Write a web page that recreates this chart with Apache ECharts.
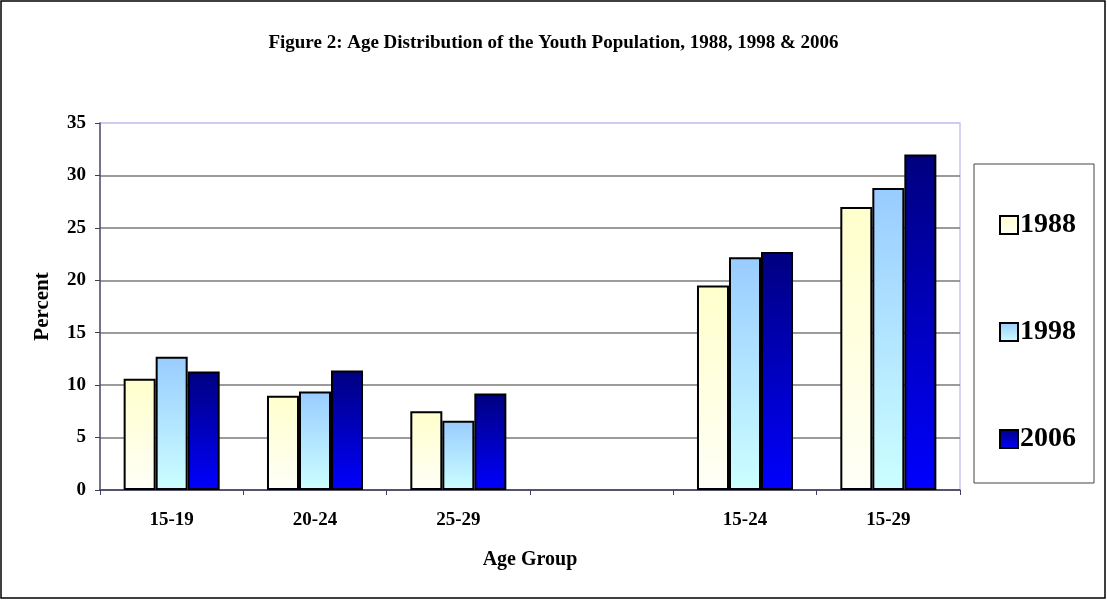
<!DOCTYPE html>
<html>
<head>
<meta charset="utf-8">
<script src="https://cdn.jsdelivr.net/npm/echarts@6/dist/echarts.min.js"></script>
<style>
  html, body { margin: 0; padding: 0; background: #fff; }
  #chart { width: 1107px; height: 600px; }
</style>
</head>
<body>
<div id="chart"></div>
<script>
// Age groups (the empty slot separates single groups from combined ranges)
const categories = ['15-19', '20-24', '25-29', '', '15-24', '15-29'];
const yearNames = ['1988', '1998', '2006'];
const values1988 = [10.6, 9.0, 7.5, '-', 19.5, 27.0];
const values1998 = [12.7, 9.4, 6.6, '-', 22.2, 28.8];
const values2006 = [11.3, 11.4, 9.2, '-', 22.7, 32.0];
const yTicks = [0, 5, 10, 15, 20, 25, 30, 35];

const SERIF = '"Liberation Serif", "Times New Roman", serif';

function vGrad(top, bottom) {
  return new echarts.graphic.LinearGradient(0, 0, 0, 1, [
    { offset: 0, color: top },
    { offset: 1, color: bottom }
  ]);
}

const fills = [
  vGrad('#FFFFCC', '#FFFFF8'),
  vGrad('#99CCFF', '#CCFFFF'),
  vGrad('#000080', '#0000FF')
];
const seriesValues = [values1988, values1998, values2006];

const chart = echarts.init(document.getElementById('chart'), null, { renderer: 'canvas' });

chart.setOption({
  animation: false,
  backgroundColor: '#ffffff',
  title: {
    text: 'Figure 2: Age Distribution of the Youth Population, 1988, 1998 & 2006',
    left: 'center',
    top: 29,
    textStyle: { fontFamily: SERIF, fontWeight: 'bold', fontSize: 19, color: '#000' }
  },
  graphic: [
    {
      type: 'rect',
      shape: { x: 1, y: 1, width: 1104, height: 597 },
      style: { fill: 'none', stroke: '#000', lineWidth: 1.5 },
      z: 0
    },
    {
      type: 'rect',
      shape: { x: 974, y: 164, width: 120, height: 319 },
      style: { fill: '#fff', stroke: '#444', lineWidth: 1 },
      z: 0
    }
  ],
  legend: {
    orient: 'vertical',
    left: 994,
    top: 205,
    itemWidth: 18,
    itemHeight: 18,
    itemGap: 77,
    icon: 'rect',
    data: yearNames,
    textStyle: { fontFamily: SERIF, fontWeight: 'bold', fontSize: 28, color: '#000', lineHeight: 30, padding: [0, 0, 0, -3] }
  },
  grid: { left: 100, right: 147, top: 123, bottom: 110, show: true, borderColor: '#c8c8f0', borderWidth: 1.5, backgroundColor: '#fff' },
  xAxis: {
    type: 'category',
    data: categories,
    name: 'Age Group',
    nameLocation: 'middle',
    nameGap: 60,
    nameTextStyle: { fontFamily: SERIF, fontWeight: 'bold', fontSize: 20, color: '#000' },
    axisLine: { lineStyle: { color: '#404060', width: 1.5 } },
    axisTick: { show: true, length: 5, lineStyle: { color: '#404060' } },
    axisLabel: { fontFamily: SERIF, fontWeight: 'bold', fontSize: 19, color: '#000', margin: 21 }
  },
  yAxis: {
    type: 'value',
    min: 0,
    max: 35,
    interval: 5,
    name: 'Percent',
    nameLocation: 'middle',
    nameGap: 47,
    nameRotate: 90,
    nameTextStyle: { fontFamily: SERIF, fontWeight: 'bold', fontSize: 21, color: '#000' },
    axisLine: { show: true, lineStyle: { color: '#505070', width: 1.5 } },
    axisTick: { show: true, length: 5, lineStyle: { color: '#404040' } },
    axisLabel: {
      fontFamily: SERIF, fontWeight: 'bold', fontSize: 19, color: '#000', margin: 14,
      formatter: v => (yTicks.indexOf(v) >= 0 ? String(v) : '')
    },
    splitLine: {
      lineStyle: {
        color: ['#7a7a7a', '#7a7a7a', '#7a7a7a', '#7a7a7a', '#7a7a7a', '#7a7a7a', '#7a7a7a', '#c8c8f0'],
        width: 1.5
      }
    }
  },
  series: yearNames.map((name, i) => ({
    name: name,
    type: 'bar',
    data: seriesValues[i],
    barGap: '0%',
    barCategoryGap: '33%',
    itemStyle: { color: fills[i], borderColor: '#000', borderWidth: 2 }
  }))
});
</script>
</body>
</html>
